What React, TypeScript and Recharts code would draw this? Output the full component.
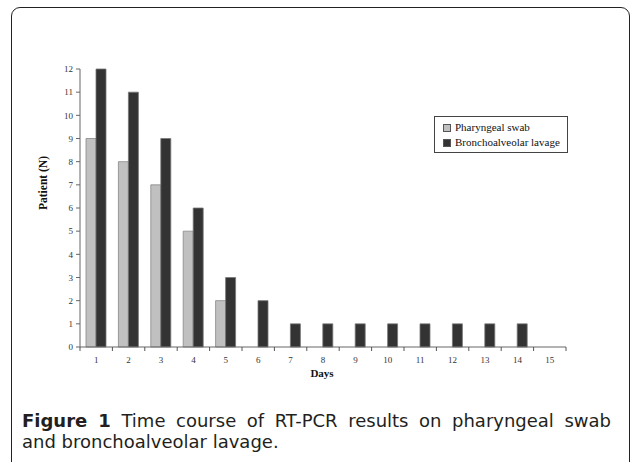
import { BarChart, Bar, XAxis, YAxis, Legend } from 'recharts';

const DAYS = ['1', '2', '3', '4', '5', '6', '7', '8', '9', '10', '11', '12', '13', '14', '15'];
const PHARYNGEAL = [9, 8, 7, 5, 2, 0, 0, 0, 0, 0, 0, 0, 0, 0, 0];
const BRONCHO = [12, 11, 9, 6, 3, 2, 1, 1, 1, 1, 1, 1, 1, 1, 0];
const Y_TICKS = [0, 1, 2, 3, 4, 5, 6, 7, 8, 9, 10, 11, 12];

const data = DAYS.map((d, i) => ({
  day: d,
  pharyngeal: PHARYNGEAL[i],
  broncho: BRONCHO[i],
}));

const SERIF = '"Liberation Serif", "Times New Roman", serif';

function DayTick(props: any) {
  const { x, y, payload, index } = props;
  const half = payload?.offset ?? 16.2;
  return (
    <g>
      <line x1={x + half} y1={y} x2={x + half} y2={y + 4} stroke="#555" />
      {index === 0 && <line x1={x - half} y1={y} x2={x - half} y2={y + 4} stroke="#555" />}
      <text x={x} y={y + 16} textAnchor="middle" fontSize={9} fill="#333" fontFamily={SERIF}>
        {payload.value}
      </text>
    </g>
  );
}

function LegendBox() {
  const items = [
    { label: 'Pharyngeal swab', color: '#c0c0c0' },
    { label: 'Bronchoalveolar lavage', color: '#333333' },
  ];
  return (
    <div
      style={{
        border: '1px solid #444',
        background: '#fff',
        padding: '3px 6px 2px 8px',
        width: 118,
        fontFamily: SERIF,
        fontSize: 11,
        color: '#111',
        lineHeight: '15px',
      }}
    >
      {items.map((it) => (
        <div key={it.label} style={{ display: 'flex', alignItems: 'center' }}>
          <span
            style={{
              display: 'inline-block',
              width: 6,
              height: 6,
              background: it.color,
              border: '1px solid #555',
              marginRight: 4,
            }}
          />
          {it.label}
        </div>
      ))}
    </div>
  );
}

const CAPTION_FONT = '"DejaVu Sans", sans-serif';

export default function App() {
  return (
    <div style={{ position: 'absolute', left: 0, top: 0, width: 632, height: 462, background: '#fff', overflow: 'hidden' }}>
      <div
        style={{
          position: 'absolute',
          left: 11,
          top: 7,
          width: 617,
          height: 480,
          border: '1.5px solid #222',
          borderTopLeftRadius: 9,
          borderTopRightRadius: 9,
        }}
      />
      <div style={{ position: 'absolute', left: 0, top: 0 }}>
        <BarChart
          width={632}
          height={400}
          data={data}
          margin={{ top: 69, right: 66, bottom: 23, left: 40 }}
          barGap={0}
          barSize={10}
        >
          <XAxis
            dataKey="day"
            tickLine={false}
            tickSize={0}
            tickMargin={0}
            axisLine={{ stroke: '#666' }}
            tick={<DayTick />}
            height={30}
            interval={0}
          />
          <YAxis
            domain={[0, 12]}
            ticks={Y_TICKS}
            interval={0}
            width={40}
            tickSize={4}
            tickMargin={3}
            axisLine={{ stroke: '#666' }}
            tickLine={{ stroke: '#666' }}
            tick={{ fontSize: 9, fill: '#333', fontFamily: SERIF }}
          />
          <Legend
            layout="vertical"
            align="center"
            verticalAlign="middle"
            content={<LegendBox />}
            wrapperStyle={{ left: 434, top: 116, width: 'auto' }}
          />
          <Bar dataKey="pharyngeal" fill="#c0c0c0" stroke="#888" strokeWidth={0.8} isAnimationActive={false} />
          <Bar dataKey="broncho" fill="#333333" stroke="#777" strokeWidth={0.8} isAnimationActive={false} />
        </BarChart>
      </div>
      <div
        style={{
          position: 'absolute',
          left: 43,
          top: 183,
          transform: 'translate(-50%, -50%) rotate(-90deg)',
          fontFamily: SERIF,
          fontWeight: 'bold',
          fontSize: 11.5,
          whiteSpace: 'nowrap',
          color: '#111',
        }}
      >
        Patient (N)
      </div>
      <div
        style={{
          position: 'absolute',
          left: 322,
          top: 373,
          transform: 'translate(-50%, -50%)',
          fontFamily: SERIF,
          fontWeight: 'bold',
          fontSize: 11,
          color: '#111',
        }}
      >
        Days
      </div>
      <div
        style={{
          position: 'absolute',
          left: 22,
          top: 410,
          width: 589,
          fontFamily: CAPTION_FONT,
          fontSize: 18,
          lineHeight: '21px',
          color: '#231f20',
        }}
      >
        <div style={{ textAlign: 'justify', textAlignLast: 'justify', whiteSpace: 'nowrap' }}>
          <b>Figure 1</b> Time course of RT-PCR results on pharyngeal swab
        </div>
        <div style={{ whiteSpace: 'nowrap' }}>and bronchoalveolar lavage.</div>
      </div>
    </div>
  );
}
